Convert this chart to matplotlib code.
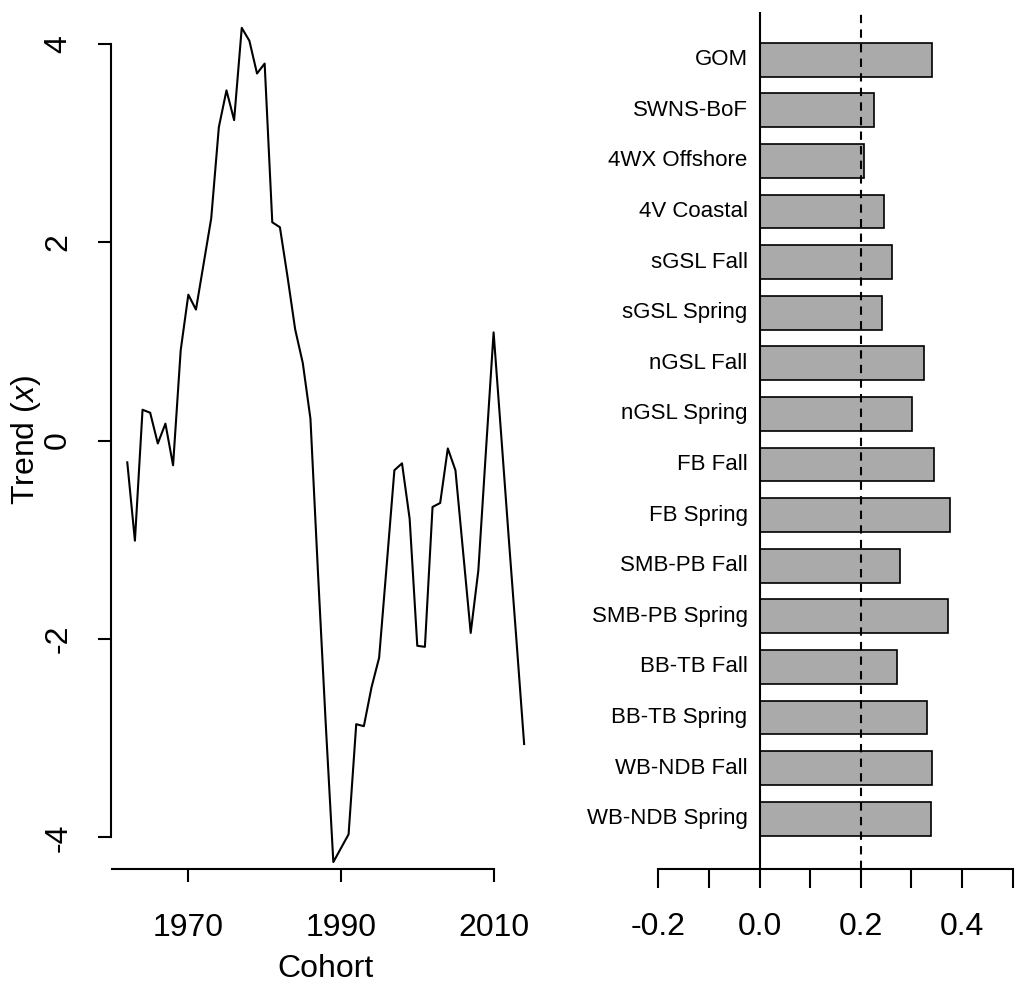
import numpy as np
import matplotlib.pyplot as plt

plt.rcParams['font.family'] = ['Liberation Sans', 'DejaVu Sans']
plt.rcParams['axes.unicode_minus'] = False
plt.rcParams['mathtext.fontset'] = 'custom'
plt.rcParams['mathtext.rm'] = 'Liberation Sans'
plt.rcParams['mathtext.it'] = 'Liberation Sans:italic'

# trend series
years = np.arange(1962, 2015)
trend = [-0.22, -1.01, 0.31, 0.28, -0.03, 0.17, -0.25, 0.91, 1.47,
         1.32, 1.78, 2.24, 3.16, 3.53, 3.23, 4.16, 4.03, 3.70, 3.80,
         2.20, 2.15, 1.65, 1.12, 0.78, 0.22, -1.35, -2.85, -4.25, -4.11,
         -3.97, -2.86, -2.88, -2.49, -2.19, -1.25, -0.30, -0.23, -0.79, -2.07,
         -2.08, -0.67, -0.63, -0.08, -0.30, -1.12, -1.94, -1.31, -0.10, 1.09,
         0.05, -1.00, -2.02, -3.06]

# loadings, top to bottom
regions = ['GOM', 'SWNS-BoF', '4WX Offshore', '4V Coastal', 'sGSL Fall',
           'sGSL Spring', 'nGSL Fall', 'nGSL Spring', 'FB Fall', 'FB Spring',
           'SMB-PB Fall', 'SMB-PB Spring', 'BB-TB Fall', 'BB-TB Spring',
           'WB-NDB Fall', 'WB-NDB Spring']
loadings = [0.341, 0.225, 0.206, 0.246, 0.262, 0.241, 0.324, 0.301, 0.345,
            0.376, 0.277, 0.372, 0.271, 0.330, 0.340, 0.338]

W, H = 1015, 983
fig = plt.figure(figsize=(W / 100, H / 100), dpi=100)

# ---- left panel: trend
ax1 = fig.add_axes([111.4 / W, (H - 869) / H, (540 - 111.4) / W, 857 / H])
ax1.plot(years, trend, color='black', lw=1.5)
ax1.set_xlim(1959.92, 2016.08)
ax1.set_ylim(-4.32, 4.32)
for s in ['top', 'right']:
    ax1.spines[s].set_visible(False)
ax1.spines['left'].set_bounds(-4, 4)
ax1.spines['bottom'].set_bounds(1960, 2010)
for s in ['left', 'bottom']:
    ax1.spines[s].set_linewidth(1.5)
ax1.set_xticks([1970, 1990, 2010])
ax1.set_yticks([-4, -2, 0, 2, 4])
ax1.set_yticklabels(['-4', '-2', '0', '2', '4'])
ax1.tick_params(axis='both', length=9.5, width=1.5, labelsize=23)
ax1.tick_params(axis='x', pad=22)
ax1.tick_params(axis='y', pad=18, labelrotation=90)
for lab in ax1.get_yticklabels():
    lab.set_va('center')
ax1.set_xlabel('Cohort', fontsize=23, labelpad=8)
ax1.set_ylabel(r'Trend ($\mathit{x}$)', fontsize=23, labelpad=0)

# ---- right panel: loadings
ax2 = fig.add_axes([644 / W, (H - 869) / H, (W - 644) / W, 857 / H])
pos = np.arange(len(regions))
ax2.barh(pos, loadings, height=0.67, color='#aaaaaa', edgecolor='black', lw=1.2)
ax2.axvline(0, color='black', lw=1.5)
ax2.axvline(0.2, color='black', lw=1.5, ls=(0, (4, 3)))
ax2.set_xlim(-0.2284, 0.5045)
ax2.set_ylim(15.994, -0.943)
for s in ['top', 'right', 'left']:
    ax2.spines[s].set_visible(False)
ax2.spines['bottom'].set_bounds(-0.2, 0.5)
ax2.spines['bottom'].set_linewidth(1.5)
ax2.set_yticks([])
ax2.set_xticks(np.arange(-0.2, 0.51, 0.1))
ax2.set_xticklabels(['-0.2', '', '0.0', '', '0.2', '', '0.4', ''])
ax2.tick_params(axis='x', length=14, width=1.5, labelsize=23, pad=17)
for i, name in enumerate(regions):
    ax2.text(-0.0237, i, name, ha='right', va='center', fontsize=16)

fig.savefig('out.png', dpi=100)
